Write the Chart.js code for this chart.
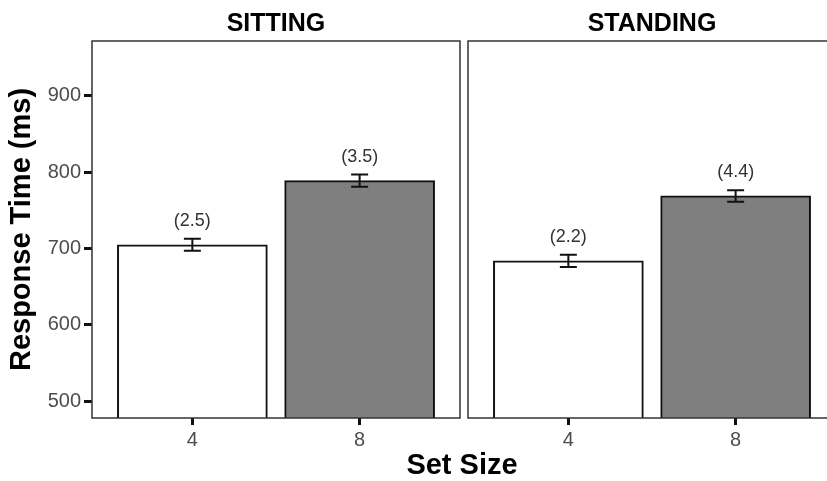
<!DOCTYPE html>
<html>
<head>
<meta charset="utf-8">
<script src="https://cdn.jsdelivr.net/npm/chart.js@4.4.0/dist/chart.umd.min.js"></script>
<style>
  html, body { margin: 0; padding: 0; background: #fff; overflow: hidden; }
  #wrap { position: relative; width: 827px; height: 481px; overflow: hidden; }
  #sitting { position: absolute; left: 0; top: 0; }
  #standing { position: absolute; left: 464px; top: 0; }
</style>
</head>
<body>
<div id="wrap">
  <canvas id="sitting" width="827" height="481"></canvas>
  <canvas id="standing" width="376" height="481"></canvas>
</div>
<script>
// data
const setSizes = ["4", "8"];
const sittingRT = [705, 789];
const sittingSE = [8, 8];
const sittingErr = [2.5, 3.5];
const standingRT = [684, 769];
const standingSE = [8, 7.5];
const standingErr = [2.2, 4.4];
const yTicks = [500, 600, 700, 800, 900];
const yRange = [478, 972];

Chart.defaults.font.family = "'Liberation Sans', Arial, Helvetica, sans-serif";

// error bars, error-rate labels, panel frame and strip title
const panelExtras = {
  id: "panelExtras",
  afterDatasetsDraw(chart, args, opts) {
    const ctx = chart.ctx;
    const xs = chart.scales.x, ys = chart.scales.y;
    const a = chart.chartArea;
    ctx.save();
    opts.rt.forEach(function (v, i) {
      const x = xs.getPixelForValue(i + 1);
      const yt = ys.getPixelForValue(v + opts.se[i]);
      const yb = ys.getPixelForValue(v - opts.se[i]);
      ctx.strokeStyle = "#111";
      ctx.lineWidth = 2;
      ctx.beginPath();
      ctx.moveTo(x, yt); ctx.lineTo(x, yb);
      ctx.moveTo(x - 8.5, yt); ctx.lineTo(x + 8.5, yt);
      ctx.moveTo(x - 8.5, yb); ctx.lineTo(x + 8.5, yb);
      ctx.stroke();

      ctx.fillStyle = "#333";
      ctx.font = "18px 'Liberation Sans', Arial, sans-serif";
      ctx.textAlign = "center";
      ctx.textBaseline = "middle";
      ctx.fillText("(" + opts.err[i].toFixed(1) + ")", x, yt - 18);
    });

    ctx.strokeStyle = "#333";
    ctx.lineWidth = 1.5;
    ctx.strokeRect(a.left, a.top, a.right - a.left, a.bottom - a.top);

    ctx.fillStyle = "#000";
    ctx.font = "bold 25px 'Liberation Sans', Arial, sans-serif";
    ctx.textAlign = "center";
    ctx.textBaseline = "middle";
    ctx.fillText(opts.title, (a.left + a.right) / 2, 24);

    if (opts.xTitle) {
      ctx.font = "bold 29px 'Liberation Sans', Arial, sans-serif";
      ctx.fillText(opts.xTitle, 462, 466);
    }
    ctx.restore();
  }
};

function makePanel(id, title, rt, se, err, showY, padding, xTitle) {
  return new Chart(document.getElementById(id), {
    type: "bar",
    data: {
      datasets: [{
        data: rt.map(function (v, i) { return { x: i + 1, y: v }; }),
        backgroundColor: ["#ffffff", "#7f7f7f"],
        borderColor: "#111",
        borderWidth: 2,
        borderSkipped: false,
        barThickness: 150
      }]
    },
    options: {
      responsive: false,
      animation: false,
      layout: { padding: padding },
      plugins: {
        legend: { display: false },
        tooltip: { enabled: false },
        panelExtras: { title: title, rt: rt, se: se, err: err, xTitle: xTitle }
      },
      scales: {
        x: {
          type: "linear",
          min: 0.4,
          max: 2.6,
          offset: false,
          afterBuildTicks: function (s) { s.ticks = setSizes.map(function (v, i) { return { value: i + 1 }; }); },
          afterFit: function (s) { s.height = 30; },
          grid: { offset: false, drawOnChartArea: false, drawTicks: true, tickLength: 7, tickWidth: 3, tickColor: "#111" },
          border: { display: false },
          ticks: {
            padding: 3,
            color: "#4d4d4d",
            font: { size: 20 },
            callback: function (v, i) { return setSizes[i]; }
          }
        },
        y: {
          display: showY,
          min: yRange[0],
          max: yRange[1],
          beginAtZero: false,
          afterBuildTicks: function (s) { s.ticks = yTicks.map(function (v) { return { value: v }; }); },
          afterFit: function (s) { if (showY) s.width = 92; },
          grid: { drawOnChartArea: false, drawTicks: true, tickLength: 8, tickWidth: 3, tickColor: "#111" },
          border: { display: false },
          ticks: { padding: 3, color: "#4d4d4d", font: { size: 20 } },
          title: {
            display: true,
            text: "Response Time (ms)",
            color: "#000",
            font: { size: 29, weight: "bold" },
            padding: { top: 5, bottom: 0 }
          }
        }
      }
    },
    plugins: [panelExtras]
  });
}

makePanel("sitting", "SITTING", sittingRT, sittingSE, sittingErr, true,
  { left: 0, top: 41, right: 367, bottom: 33 }, "Set Size");
makePanel("standing", "STANDING", standingRT, standingSE, standingErr, false,
  { left: 4, top: 41, right: 4, bottom: 33 }, null);
</script>
</body>
</html>
